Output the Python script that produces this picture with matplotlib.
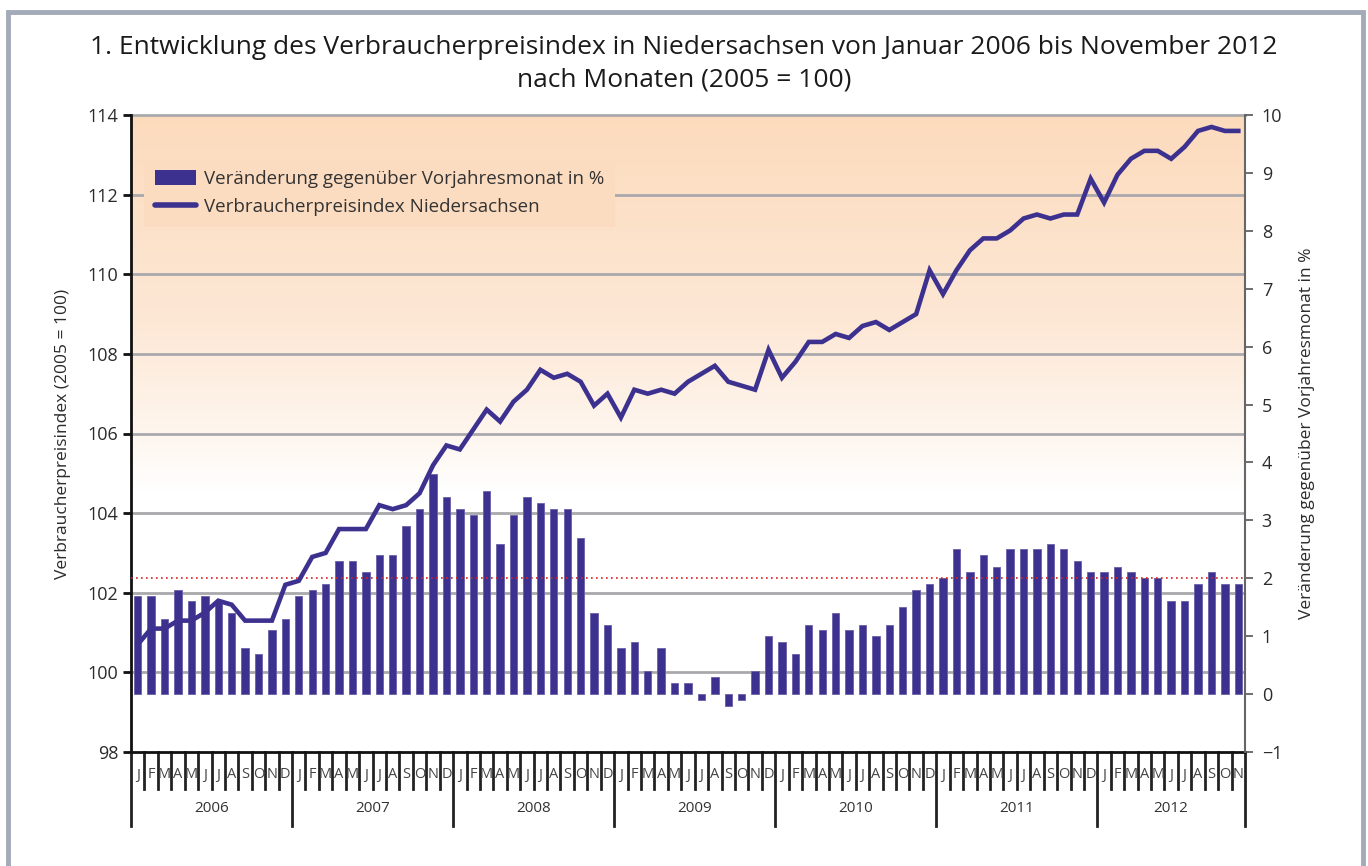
import numpy as np
import matplotlib
matplotlib.use("Agg")
import matplotlib.pyplot as plt
from matplotlib.patches import Rectangle
from matplotlib.lines import Line2D
from matplotlib.colors import LinearSegmentedColormap

plt.rcParams['font.family'] = ['Open Sans', 'DejaVu Sans']

# data: Jan 2006 .. Nov 2012
years = ['2006', '2007', '2008', '2009', '2010', '2011', '2012']
month_letters = ['J', 'F', 'M', 'A', 'M', 'J', 'J', 'A', 'S', 'O', 'N', 'D']

# Veränderung gegenüber Vorjahresmonat in %
change_pct = [
    1.7, 1.7, 1.3, 1.8, 1.6, 1.7, 1.6, 1.4, 0.8, 0.7, 1.1, 1.3,   # 2006
    1.7, 1.8, 1.9, 2.3, 2.3, 2.1, 2.4, 2.4, 2.9, 3.2, 3.8, 3.4,   # 2007
    3.2, 3.1, 3.5, 2.6, 3.1, 3.4, 3.3, 3.2, 3.2, 2.7, 1.4, 1.2,   # 2008
    0.8, 0.9, 0.4, 0.8, 0.2, 0.2, -0.1, 0.3, -0.2, -0.1, 0.4, 1.0,  # 2009
    0.9, 0.7, 1.2, 1.1, 1.4, 1.1, 1.2, 1.0, 1.2, 1.5, 1.8, 1.9,   # 2010
    2.0, 2.5, 2.1, 2.4, 2.2, 2.5, 2.5, 2.5, 2.6, 2.5, 2.3, 2.1,   # 2011
    2.1, 2.2, 2.1, 2.0, 2.0, 1.6, 1.6, 1.9, 2.1, 1.9, 1.9,        # 2012
]

# Verbraucherpreisindex Niedersachsen (2005 = 100)
cpi = [
    100.7, 101.1, 101.1, 101.3, 101.3, 101.5, 101.8, 101.7, 101.3, 101.3, 101.3, 102.2,
    102.3, 102.9, 103.0, 103.6, 103.6, 103.6, 104.2, 104.1, 104.2, 104.5, 105.2, 105.7,
    105.6, 106.1, 106.6, 106.3, 106.8, 107.1, 107.6, 107.4, 107.5, 107.3, 106.7, 107.0,
    106.4, 107.1, 107.0, 107.1, 107.0, 107.3, 107.5, 107.7, 107.3, 107.2, 107.1, 108.1,
    107.4, 107.8, 108.3, 108.3, 108.5, 108.4, 108.7, 108.8, 108.6, 108.8, 109.0, 110.1,
    109.5, 110.1, 110.6, 110.9, 110.9, 111.1, 111.4, 111.5, 111.4, 111.5, 111.5, 112.4,
    111.8, 112.5, 112.9, 113.1, 113.1, 112.9, 113.2, 113.6, 113.7, 113.6, 113.6,
]

reference_pct = 2.0

purple = '#3d3190'
grid_gray = '#a9a9ad'
text_col = '#2b2b2b'
n = len(cpi)
x = np.arange(n)

fig = plt.figure(figsize=(13.68, 8.66), dpi=100)

# grey frame around the whole chart
fig.patches.append(Rectangle((8 / 1368, -0.05), 1355 / 1368, 1.05 - 12 / 866,
                             transform=fig.transFigure, fill=False,
                             edgecolor='#a3aab8', linewidth=3.5))

fig.text(0.5, 1 - 47 / 866, '1. Entwicklung des Verbraucherpreisindex in Niedersachsen von Januar 2006 bis November 2012',
         ha='center', va='center', fontsize=19, color='#1a1a1a')
fig.text(0.5, 1 - 80 / 866, 'nach Monaten (2005 = 100)',
         ha='center', va='center', fontsize=19, color='#1a1a1a')

rect = [131 / 1368, 1 - 752 / 866, (1245 - 131) / 1368, (752 - 115) / 866]
ax = fig.add_axes(rect)
ax.set_xlim(-0.5, n - 0.5)
ax.set_ylim(98, 114)

# background gradient: peach at the top fading to white around 104.8
cmap = LinearSegmentedColormap.from_list('peach', ['#ffffff', '#fde8d6', '#fcdbbd'])
yy = np.linspace(98, 114, 400).reshape(-1, 1)
grad = np.clip((yy - 104.6) / (114 - 104.6), 0, 1) ** 0.85
ax.imshow(grad, aspect='auto', cmap=cmap, origin='lower', extent=(-0.5, n - 0.5, 98, 114),
          zorder=0, vmin=0, vmax=1)

for v in range(100, 114, 2):
    ax.axhline(v, color=grid_gray, lw=2, zorder=1)

ax.set_yticks(range(98, 115, 2))
ax.tick_params(axis='y', direction='out', length=6, width=2, labelsize=13, colors='#111111', pad=3)
ax.tick_params(axis='y', labelcolor=text_col)
ax.set_xticks([])
ax.set_ylabel('Verbraucherpreisindex (2005 = 100)', fontsize=12.5, color=text_col, labelpad=12)
for s in ['top', 'right']:
    ax.spines[s].set_visible(False)
ax.spines['left'].set_linewidth(2)
ax.spines['left'].set_color('#111111')
ax.spines['bottom'].set_linewidth(2)
ax.spines['bottom'].set_color('#111111')
ax.axhline(114, color=grid_gray, lw=2, zorder=1, clip_on=False)

# bars on the right axis
ax2 = ax.twinx()
ax2.set_ylim(-1, 10)
ax2.bar(x, change_pct, width=0.55, color=purple, edgecolor='#6a60aa', linewidth=0.6, zorder=2)
ax2.axhline(reference_pct, color='#d62020', lw=1.2, ls=(0, (1, 2)), zorder=3)
ax2.set_yticks(range(-1, 11))
ax2.tick_params(axis='y', direction='out', length=6, width=1.2, labelsize=13, colors='#555555', pad=6)
ax2.tick_params(axis='y', labelcolor=text_col)
ax2.set_ylabel('Veränderung gegenüber Vorjahresmonat in %', fontsize=12.5, color=text_col, labelpad=12)
for s in ['top', 'left', 'bottom']:
    ax2.spines[s].set_visible(False)
ax2.spines['right'].set_color('#666666')
ax2.spines['right'].set_linewidth(1.5)

# line on top
ax3 = ax.twinx()
ax3.set_ylim(98, 114)
ax3.plot(x, cpi, color=purple, lw=3.3, solid_joinstyle='miter', zorder=5)
ax3.set_yticks([])
for s in ax3.spines.values():
    s.set_visible(False)

# legend
handles = [Rectangle((0, 0), 1, 1, facecolor=purple, edgecolor='none'),
           Line2D([0], [0], color=purple, lw=4, solid_capstyle='round')]
leg = ax3.legend(handles, ['Veränderung gegenüber Vorjahresmonat in %', 'Verbraucherpreisindex Niedersachsen'],
                 loc='upper left', bbox_to_anchor=(0.012, 0.93), fontsize=13.5, frameon=True,
                 facecolor='#fcdcc0', edgecolor='none', framealpha=1, fancybox=False,
                 handlelength=2.2, handleheight=0.85, handletextpad=0.45, labelspacing=0.55,
                 borderpad=0.55, borderaxespad=0)
for t in leg.get_texts():
    t.set_color('#333333')
leg.set_zorder(6)

# month / year category axis below the plot
tr = ax.get_xaxis_transform()
month_tick = -37 / 637
year_tick = -74 / 637
for i in range(n + 1):
    b = i - 0.5
    low = year_tick if i % 12 == 0 or i == n else month_tick
    ax.plot([b, b], [0, low], transform=tr, color='#222222', lw=2, clip_on=False)
for i in range(n):
    ax.text(i, -23 / 637, month_letters[i % 12], transform=tr, ha='center', va='center',
            fontsize=10.5, color='#444444')
for k, yr in enumerate(years):
    start = k * 12
    end = min(start + 12, n)
    ax.text((start + end - 1) / 2, -56 / 637, yr, transform=tr, ha='center', va='center',
            fontsize=11, color='#333333')

fig.savefig('out.png', dpi=100)
